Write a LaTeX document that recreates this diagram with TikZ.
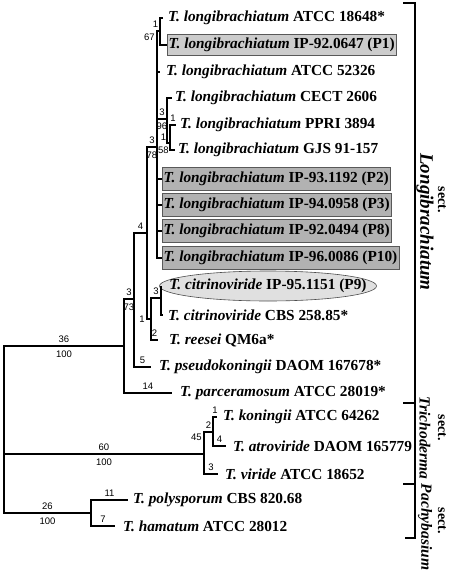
\documentclass[tikz,border=0pt]{standalone}
\usepackage{fontspec}
\setmainfont{Liberation Serif}
\newfontfamily\lblfont{Liberation Sans}
\usetikzlibrary{positioning}

\newcommand{\taxon}[1]{\textit{#1}}

\begin{document}
\begin{tikzpicture}[
  x=1pt, y=-1pt,
  branch/.style={line width=1.8pt},
  lbl/.style={font=\lblfont\fontsize{9.5}{9.5}\selectfont, inner sep=1.5pt},
  len/.style={lbl, above=1.2pt, pos=0.75},
  boot/.style={lbl, below=2.8pt, pos=0.75},
  leaf/.style={font=\bfseries\fontsize{15.3}{16}\selectfont, inner sep=0pt},
  isolate/.style={leaf, draw=black!65, fill=black!30, inner xsep=1.5pt, inner ysep=4.5pt},
  sect/.style={font=\bfseries\fontsize{14}{14}\selectfont, inner sep=0pt, rotate=-90},
  secttax/.style={sect, font=\bfseries\itshape\fontsize{15.5}{15.5}\selectfont}
]
\useasboundingbox (0,0) rectangle (448,571);

% tree nodes
\coordinate (root) at (4,454);
\coordinate (n1) at (124,346);
\coordinate (tri) at (204,454);
\coordinate (pac) at (91,513);
\coordinate (n2) at (134,299);
\coordinate (n3) at (147,233);
\coordinate (nl) at (157,147);
\coordinate (n4) at (151,319);
\coordinate (n5) at (161,298);
\coordinate (n67) at (160,31);
\coordinate (n96) at (167,119);
\coordinate (n58) at (170,143);
\coordinate (nka) at (213,432);

% branch tips
\coordinate (t-18648) at (163,18);
\coordinate (t-p1) at (167,45);
\coordinate (t-52326) at (160,72);
\coordinate (t-cect) at (172,98);
\coordinate (t-ppri) at (176,125);
\coordinate (t-gjs) at (175,150);
\coordinate (t-p2) at (162,179);
\coordinate (t-p3) at (162,205);
\coordinate (t-p8) at (162,231);
\coordinate (t-p10) at (162,258);
\coordinate (t-p9) at (161,286);
\coordinate (t-cbs) at (163,315);
\coordinate (t-reesei) at (158,340);
\coordinate (t-pseudo) at (151,367);
\coordinate (t-parc) at (172,393);
\coordinate (t-kon) at (217,417);
\coordinate (t-atro) at (226,446);
\coordinate (t-viride) at (218,474);
\coordinate (t-poly) at (128,500);
\coordinate (t-ham) at (115,526);

% leaves
\node[leaf, right=5pt of t-18648] (l18648) {\taxon{T. longibrachiatum} ATCC 18648*};
\node[isolate, fill=black!20, inner ysep=3.5pt, right=0pt of t-p1] (p1) {\taxon{T. longibrachiatum} IP-92.0647 (P1)};
\node[leaf, right=6pt of t-52326] (l52326) {\taxon{T. longibrachiatum} ATCC 52326};
\node[leaf, right=3pt of t-cect] (lcect) {\taxon{T. longibrachiatum} CECT 2606};
\node[leaf, right=4pt of t-ppri] (lppri) {\taxon{T. longibrachiatum} PPRI 3894};
\node[leaf, right=3pt of t-gjs] (lgjs) {\taxon{T. longibrachiatum} GJS 91-157};
\node[isolate, right=0pt of t-p2] (p2) {\taxon{T. longibrachiatum} IP-93.1192 (P2)};
\node[isolate, right=0pt of t-p3] (p3) {\taxon{T. longibrachiatum} IP-94.0958 (P3)};
\node[isolate, right=0pt of t-p8] (p8) {\taxon{T. longibrachiatum} IP-92.0494 (P8)};
\node[isolate, right=0pt of t-p10] (p10) {\taxon{T. longibrachiatum} IP-96.0086 (P10)};
\coordinate (p9c) at (268,286);
\draw[draw=black!70, fill=black!12, line width=0.6pt] (p9c) ellipse [x radius=108.5pt, y radius=15pt];
\node[leaf] (p9) at (p9c) {\taxon{T. citrinoviride} IP-95.1151 (P9)};
\node[leaf, right=5pt of t-cbs] (lcbs) {\taxon{T. citrinoviride} CBS 258.85*};
\node[leaf, right=11pt of t-reesei] (lreesei) {\taxon{T. reesei} QM6a*};
\node[leaf, right=8pt of t-pseudo] (lpseudo) {\taxon{T. pseudokoningii} DAOM 167678*};
\node[leaf, right=8pt of t-parc] (lparc) {\taxon{T. parceramosum} ATCC 28019*};
\node[leaf, right=6pt of t-kon] (lkon) {\taxon{T. koningii} ATCC 64262};
\node[leaf, right=7pt of t-atro] (latro) {\taxon{T. atroviride} DAOM 165779};
\node[leaf, right=7pt of t-viride] (lviride) {\taxon{T. viride} ATCC 18652};
\node[leaf, right=5pt of t-poly] (lpoly) {\taxon{T. polysporum} CBS 820.68};
\node[leaf, right=8pt of t-ham] (lham) {\taxon{T. hamatum} ATCC 28012};

% backbone
\draw[branch] (root) |- node[len]{36} node[boot]{100} (n1);
\draw[branch] (root) |- node[len]{60} node[boot]{100} (tri);
\draw[branch] (root) |- node[len]{26} node[boot]{100} (pac);

% sect. Longibrachiatum
\draw[branch] (n1) |- node[len]{3} node[boot]{73} (n2);
\draw[branch] (n1) |- node[len]{14} (t-parc);
\draw[branch] (n2) |- node[len]{4} (n3);
\draw[branch] (n2) |- node[len]{5} (t-pseudo);
\draw[branch] (n3) |- node[len]{3} node[boot]{78} (nl);
\draw[branch] (n3) |- node[lbl, left, pos=0.5]{1} (n4);
\draw[branch] (n4) |- node[len]{3} (n5);
\draw[branch] (n4) |- node[len]{2} (t-reesei);
\draw[branch] (n5) |- (t-p9);
\draw[branch] (n5) |- (t-cbs);
\draw[branch] (nl) |- node[len, xshift=-3pt]{1} node[lbl, below left, pos=0.5]{67} (n67);
\draw[branch] (n67) |- (t-18648);
\draw[branch] (n67) |- (t-p1);
\draw[branch] (nl) |- (t-52326);
\draw[branch] (nl) |- node[len]{3} node[boot, below=1.5pt]{96} (n96);
\draw[branch] (n96) |- (t-cect);
\draw[branch] (n96) |- node[len, above=0pt, xshift=-5pt]{1} node[boot, below=1pt, xshift=-5pt]{58} (n58);
\draw[branch] (n58) |- node[len]{1} (t-ppri);
\draw[branch] (n58) |- (t-gjs);
\draw[branch] (nl) |- (t-p2);
\draw[branch] (nl) |- (t-p3);
\draw[branch] (nl) |- (t-p8);
\draw[branch] (nl) |- (t-p10);

% sect. Trichoderma
\draw[branch] (tri) |- node[len]{2} node[lbl, below left, pos=0.5]{45} (nka);
\draw[branch] (tri) |- node[len]{3} (t-viride);
\draw[branch] (nka) |- node[len]{1} (t-kon);
\draw[branch] (nka) |- node[len]{4} (t-atro);

% sect. Pachybasium
\draw[branch] (pac) |- node[len]{11} (t-poly);
\draw[branch] (pac) |- node[len]{7} (t-ham);

% section brackets
\draw[branch] (403,3) -| (415,538) -- (405,538);
\draw[branch] (403,403) -- (415,403);
\draw[branch] (403,484) -- (415,484);
\node[sect] (s-longi) at (442,200) {sect.};
\node[secttax, font=\bfseries\itshape\fontsize{19}{19}\selectfont] (n-longi) at (425,222) {Longibrachiatum};
\node[sect] (s-tricho) at (442,428) {sect.};
\node[secttax] (n-tricho) at (425,438) {Trichoderma};
\node[sect] (s-pachy) at (442,521) {sect.};
\node[secttax] (n-pachy) at (425,527) {Pachybasium};
\end{tikzpicture}
\end{document}
